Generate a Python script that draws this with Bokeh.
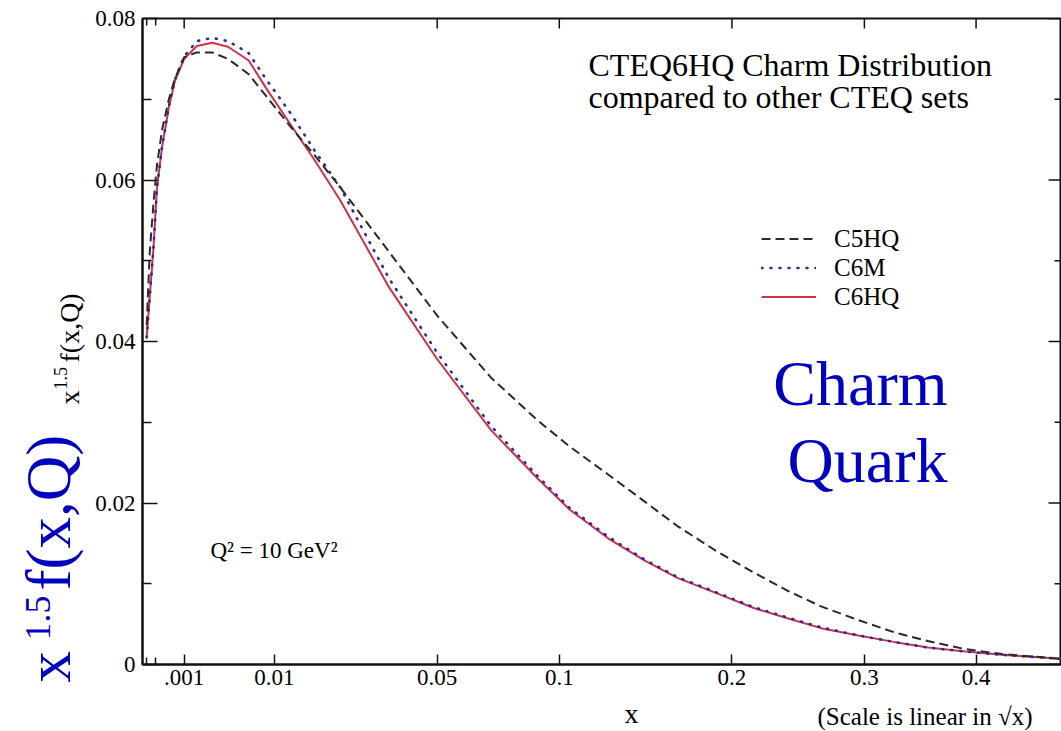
import numpy as np
from bokeh.plotting import figure
from bokeh.layouts import row, column
from bokeh.models import (Range1d, FixedTicker, LinearAxis, Label, Legend,
                          LegendItem, ColumnDataSource, CustomJSTickFormatter)
from bokeh.embed import file_html
from bokeh.resources import INLINE

# Momentum fraction x and x^1.5 f(x,Q) at Q^2 = 10 GeV^2
x_vals = [1e-5, 3e-5, 7e-5, 1.2e-4, 2.2e-4, 4e-4, 6e-4, 1e-3, 1.7e-3, 2.8e-3,
          4.2e-3, 6.5e-3, 0.0087, 0.0125, 0.017, 0.0225, 0.035, 0.05, 0.07,
          0.09, 0.105, 0.125, 0.145, 0.165, 0.19, 0.215, 0.24, 0.265, 0.295,
          0.325, 0.355, 0.39, 0.425, 0.486]
c5hq = [0.0420, 0.0510, 0.0572, 0.0618, 0.0662, 0.0700, 0.0725, 0.0752, 0.0758,
        0.0758, 0.0750, 0.0731, 0.0705, 0.0667, 0.0631, 0.0591, 0.0511, 0.0432,
        0.0355, 0.0302, 0.0270, 0.0235, 0.0202, 0.0171, 0.0140, 0.0114, 0.0091,
        0.0072, 0.0055, 0.0040, 0.0029, 0.0019, 0.0013, 0.0007]
c6m = [0.0405, 0.0455, 0.0517, 0.0590, 0.0641, 0.0691, 0.0724, 0.0753, 0.0772,
       0.0776, 0.0772, 0.0757, 0.0726, 0.0684, 0.0637, 0.0591, 0.0478, 0.0386,
       0.0295, 0.0233, 0.0194, 0.0158, 0.0130, 0.0108, 0.0089, 0.0071, 0.0058,
       0.0046, 0.0036, 0.0028, 0.0021, 0.0016, 0.0012, 0.0007]
c6hq = [0.0405, 0.0455, 0.0517, 0.0590, 0.0641, 0.0690, 0.0722, 0.0750, 0.0766,
        0.0770, 0.0765, 0.0748, 0.0715, 0.0670, 0.0625, 0.0575, 0.0467, 0.0378,
        0.0290, 0.0230, 0.0192, 0.0156, 0.0129, 0.0107, 0.0088, 0.0070, 0.0057,
        0.0045, 0.0036, 0.0028, 0.0021, 0.0016, 0.0012, 0.0007]

x_tick_vals = [0.001, 0.01, 0.05, 0.1, 0.2, 0.3, 0.4]
x_tick_labels = [".001", "0.01", "0.05", "0.1", "0.2", "0.3", "0.4"]
x_minor_vals = [1e-5, 1e-4]
y_tick_vals = [0.0, 0.02, 0.04, 0.06, 0.08]
y_tick_labels = ["0", "0.02", "0.04", "0.06", "0.08"]
y_minor_vals = [0.01, 0.03, 0.05, 0.07]

# Page geometry (pixels): caption strip on the left, the plot, caption strip below
W, H = 1061, 731
STRIP_W = 90
PLOT_W, PLOT_H = W - STRIP_W, 696
BOT_H = H - PLOT_H
LEFT, TOP = 142, 18            # frame edges on the page
FRAME_B = 664
PX_PER_SQRT = 1318.0           # horizontal pixels per unit of sqrt(x)
FRAME_W = W - LEFT
FRAME_H = FRAME_B - TOP
S_END = FRAME_W / PX_PER_SQRT
Y_END = 0.08

SERIF = "Liberation Serif"
BLUE = "#0000c0"
INK = "#111111"


def sx(px):
    return (px - LEFT) / FRAME_W * S_END


def sy(py):
    return (FRAME_B - py) / FRAME_H * Y_END


# the horizontal scale is linear in sqrt(x)
src = ColumnDataSource(dict(s=np.sqrt(x_vals), c5hq=c5hq, c6m=c6m, c6hq=c6hq))

p = figure(width=PLOT_W, height=PLOT_H, output_backend="svg", toolbar_location=None,
           x_range=Range1d(0, S_END), y_range=Range1d(0, Y_END),
           x_axis_location=None, y_axis_location=None,
           min_border_left=LEFT - STRIP_W, min_border_top=TOP,
           min_border_bottom=PLOT_H - FRAME_B, min_border_right=0)
p.grid.visible = False
p.outline_line_color = INK
p.outline_line_width = 2
p.background_fill_color = "white"
p.border_fill_color = "white"

x_ticks = [float(v) for v in np.sqrt(x_tick_vals)]
x_minor = [float(v) for v in np.sqrt(x_minor_vals)]
x_ticker = FixedTicker(ticks=x_ticks, minor_ticks=x_minor)
y_ticker = FixedTicker(ticks=y_tick_vals, minor_ticks=y_minor_vals)
x_fmt = CustomJSTickFormatter(args=dict(labels=x_tick_labels), code="return labels[index];")
y_fmt = CustomJSTickFormatter(args=dict(labels=y_tick_labels), code="return labels[index];")

common = dict(axis_line_width=2, axis_line_color=INK,
              major_tick_line_width=1.5, minor_tick_line_width=1.5,
              major_tick_line_color=INK, minor_tick_line_color=INK,
              major_tick_out=0, minor_tick_out=0, major_label_text_font=SERIF,
              major_label_text_font_size="23px", major_label_text_color="black")

bottom = LinearAxis(ticker=x_ticker, formatter=x_fmt, major_tick_in=10, minor_tick_in=7,
                    major_label_standoff=5, **common)
left = LinearAxis(ticker=y_ticker, formatter=y_fmt, major_tick_in=15, minor_tick_in=9,
                  major_label_standoff=7, **common)
p.add_layout(bottom, "below")
p.add_layout(left, "left")

# inward ticks on the top and right frame edges (dash markers cut in half by the frame)
p.scatter(x=x_ticks, y=[Y_END] * len(x_ticks), marker="dash", angle=np.pi / 2,
          size=20, line_color=INK, line_width=1.5)
p.scatter(x=x_minor, y=[Y_END] * len(x_minor), marker="dash", angle=np.pi / 2,
          size=14, line_color=INK, line_width=1.5)
p.scatter(x=[S_END] * len(y_tick_vals), y=y_tick_vals, marker="dash",
          size=26, line_color=INK, line_width=1.5)
p.scatter(x=[S_END] * len(y_minor_vals), y=y_minor_vals, marker="dash",
          size=14, line_color=INK, line_width=1.5)

r6 = p.line("s", "c6hq", source=src, line_color="#d0304a", line_width=2)
r6m = p.line("s", "c6m", source=src, line_color="#2c2ca0", line_width=2.6,
             line_dash="1 8", line_cap="round")
r5 = p.line("s", "c5hq", source=src, line_color="#2a2a2a", line_width=2,
            line_dash="9 5")

legend = Legend(items=[LegendItem(label="C5HQ", renderers=[r5]),
                       LegendItem(label="C6M", renderers=[r6m]),
                       LegendItem(label="C6HQ", renderers=[r6])],
                location=(619, 353), label_text_font=SERIF,
                label_text_font_size="25px", label_text_color="black",
                glyph_width=55, glyph_height=29, label_height=29,
                label_standoff=18, spacing=0, padding=0, margin=0,
                border_line_color=None, background_fill_alpha=0)
p.add_layout(legend)


def plain_fig(w, h, xr, yr):
    f = figure(width=w, height=h, output_backend="svg", toolbar_location=None,
               x_range=Range1d(*xr), y_range=Range1d(*yr),
               x_axis_location=None, y_axis_location=None,
               min_border_left=0, min_border_right=0, min_border_top=0,
               min_border_bottom=0)
    f.grid.visible = False
    f.outline_line_color = None
    f.background_fill_color = "white"
    f.border_fill_color = "white"
    return f


# left strip spans the full page height; its data units are page pixels
left_strip = plain_fig(STRIP_W, H, (0, STRIP_W), (0, H))
# the strip below shares the plot's column, so its frame lines up with the plot frame
bottom_strip = plain_fig(PLOT_W, BOT_H, (LEFT, W), (0, BOT_H))


def label(fig, px, py, text, size, color="black", align="left", rotated=False):
    """Place text by its page baseline position (px, py)."""
    if rotated:
        ax, ay = px - 0.34 * size, py
    else:
        ax, ay = px, py - 0.34 * size
    if fig is p:
        x, y = sx(ax), sy(ay)
    else:
        x, y = ax, H - ay
    fig.add_layout(Label(x=x, y=y, text=text, text_font=SERIF,
                         text_font_size=f"{size}px", text_color=color,
                         text_align=align, text_baseline="alphabetic",
                         angle=np.pi / 2 if rotated else 0.0))


# title block
label(p, 588, 75, "CTEQ6HQ Charm Distribution", 32)
label(p, 588, 107, "compared to other CTEQ sets", 32)

# scale annotation
label(p, 210, 558, "Q\u00b2 = 10 GeV\u00b2", 23)

# Charm Quark
label(p, 947, 405, "Charm", 64, color=BLUE, align="right")
label(p, 947, 482, "Quark", 64, color=BLUE, align="right")

# x-axis captions
label(bottom_strip, 631, 723, "x", 28, align="center")
label(bottom_strip, 817, 724, "(Scale is linear in \u221ax)", 25)

# small y-axis caption x^1.5 f(x,Q)
label(left_strip, 79, 404, "x", 28, rotated=True)
label(left_strip, 66, 389, "1.5", 18, rotated=True)
label(left_strip, 79, 362, "f(x,Q)", 28, rotated=True)

# large blue caption x^1.5 f(x,Q)
label(left_strip, 70, 682, "x", 63, color=BLUE, rotated=True)
label(left_strip, 50, 640, "1.5", 36, color=BLUE, rotated=True)
label(left_strip, 70, 590, "f(x,Q)", 63, color=BLUE, rotated=True)

page = row(left_strip, column(p, bottom_strip, spacing=0), spacing=0)
open("out.html", "w").write(file_html(page, INLINE))
